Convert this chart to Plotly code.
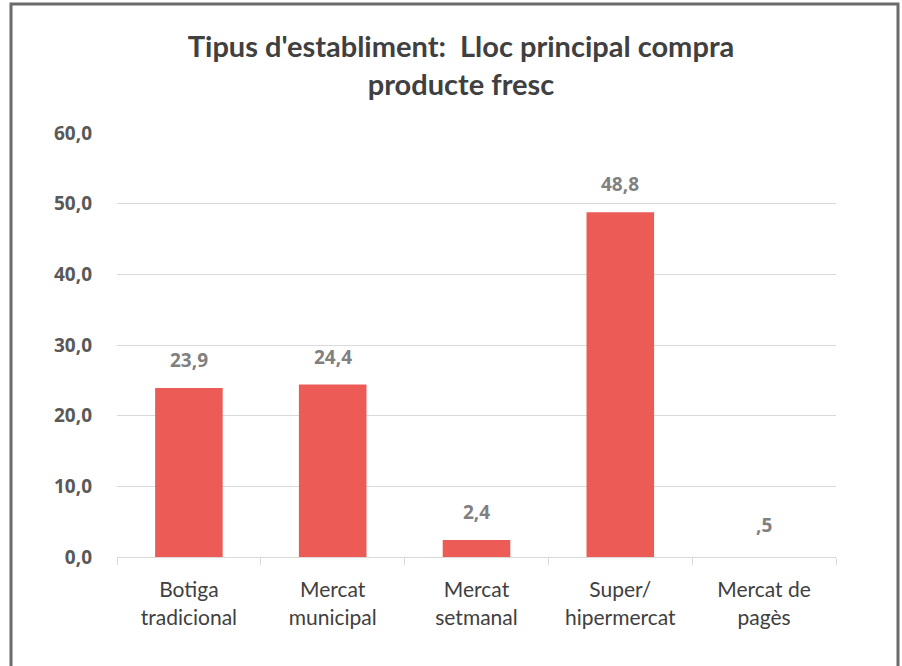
import plotly.graph_objects as go

categories = ["Botiga<br>tradicional", "Mercat<br>municipal", "Mercat<br>setmanal", "Super/<br>hipermercat", "Mercat de<br>pagès"]
values = [23.9, 24.4, 2.4, 48.8, 0.5]
y_ticks = [0, 10, 20, 30, 40, 50, 60]


def fmt(v):
    s = f"{v:.1f}".replace(".", ",")
    if s.startswith("0,"):
        s = s[1:]
    return s


labels = [fmt(v) for v in values]
# the smallest bar is not visible in the reference (drawn under the axis line)
bar_colors = ["#EC5B56" if v >= 1 else "rgba(0,0,0,0)" for v in values]

fig = go.Figure()
fig.add_trace(go.Bar(
    x=categories, y=values,
    marker=dict(color=bar_colors, line=dict(width=0)),
    width=0.47,
    hoverinfo="skip",
))

for c, v, t in zip(categories, values, labels):
    fig.add_annotation(x=c, y=v, text=t, showarrow=False, yshift=28,
                       font=dict(family="Open Sans", size=19, color="#808080", weight="bold"))

W, H = 902, 666
L, R, T, B = 117, 66, 133, 109
pw, ph = W - L - R, H - T - B


def px(x):
    return (x - L) / pw


def py(y):
    return (H - B - y) / ph


fig.add_shape(type="rect", xref="paper", yref="paper",
              x0=px(11), x1=px(898), y0=py(690), y1=py(4),
              line=dict(color="#6B6B6B", width=3), layer="below")

fig.update_layout(
    width=W, height=H,
    margin=dict(l=L, r=R, t=T, b=B),
    paper_bgcolor="white", plot_bgcolor="white",
    separators=",.",
    showlegend=False,
    title=dict(text="Tipus d'establiment:  Lloc principal compra<br>producte fresc",
               x=461 / W, xanchor="center", y=1 - 57 / H, yanchor="middle",
               font=dict(family="Lato", size=29, color="#404040", weight="bold")),
    bargap=0.53,
)
fig.update_yaxes(range=[0, 60], tickvals=y_ticks, tickformat=".1f",
                 showgrid=True, gridcolor="#D9D9D9", gridwidth=1.3,
                 zeroline=False, showline=False, ticks="",
                 ticklabelstandoff=24,
                 tickfont=dict(family="Open Sans", size=19, color="#595959", weight="bold"),
                 fixedrange=True)
fig.update_xaxes(showline=True, linecolor="#D9D9D9", linewidth=1.3,
                 ticks="outside", tickson="boundaries", ticklen=7, tickcolor="#D9D9D9", tickwidth=1.3,
                 ticklabelstandoff=14,
                 tickfont=dict(family="Lato", size=21, color="#404040"),
                 fixedrange=True)

fig.write_html("out.html", config={"displayModeBar": False},
               post_script="document.body.style.margin='0px';")
